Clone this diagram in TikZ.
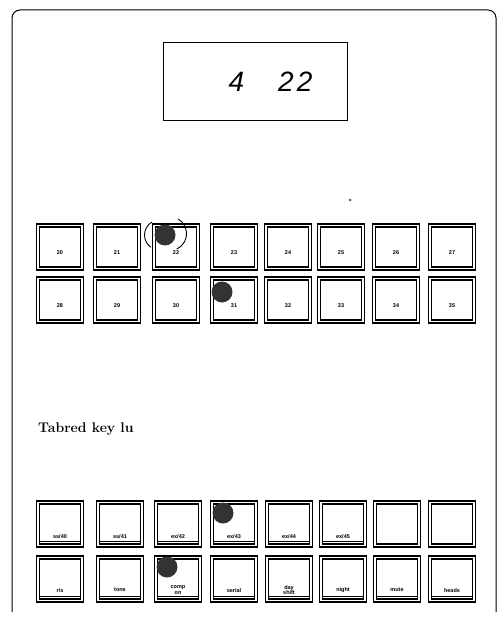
\documentclass[tikz,border=0pt]{standalone}
\usepackage{fontspec}
\setsansfont{Liberation Sans}
\begin{document}
\begin{tikzpicture}[x=1pt,y=-1pt,
  keybox/.style={draw, double, double distance=1.6pt, line width=1.3pt, minimum width=44pt, minimum height=43pt, inner sep=0pt},
  keylab/.style={font=\sffamily\bfseries\fontsize{5.5}{5.5}\selectfont, inner sep=0.5pt, align=center},
  blob/.style={fill=black!80, circle, minimum size=21pt, inner sep=0pt},
  panel/.style={draw, line width=1pt, rounded corners=8pt}]
\useasboundingbox (0,0) rectangle (498,618);
% panel
\draw[panel] (12,612) -- (12,10) -- (496,10) -- (496,612);
% display
\node[draw, line width=1.3pt, minimum width=184pt, minimum height=78pt, inner sep=0pt] (disp) at (255.5,81.5) {};
\node[font=\sffamily\itshape\fontsize{28}{28}\selectfont] (dnum) at (270.5,82) {4\hspace{34pt}2\hspace{3pt}2};
% top keys
\foreach \x/\l [count=\i] in {60/20,117/21,176/22,234/23,288/24,341/25,396/26,452/27}{
  \node[keybox] (ta\i) at (\x,247) {};
  \node[keylab] (tal\i) at ([yshift=17pt]ta\i.south) {\l};
}
\foreach \x/\l [count=\i] in {60/28,117/29,176/30,234/31,288/32,341/33,396/34,452/35}{
  \node[keybox] (tb\i) at (\x,300) {};
  \node[keylab] (tbl\i) at ([yshift=17pt]tb\i.south) {\l};
}
% dots on top keys
\node[blob] (d1) at (165,235) {};
\draw[line width=0.9pt] (152,222) arc[start angle=120, end angle=235, radius=15pt];
\draw[line width=0.9pt] (178,219) arc[start angle=60, end angle=-65, radius=17pt];
\node[blob] (d2) at (222,292) {};
\fill[black!60] (350,200) circle (1.5pt);
% title
\node[font=\bfseries\fontsize{14}{14}\selectfont, anchor=west, inner sep=0pt] (title) at (38,429) {Tabred key lu};
% bottom keys
\foreach \x [count=\i] in {60,120,178,234,289,343,397,452}{
  \node[keybox] (ba\i) at (\x,524) {};
}
\foreach \l [count=\i] in {{ss/40},{ss/41},{ex/42},{ex/43},{ex/44},{ex/45}}{
  \node[keylab] (bal\i) at ([yshift=10pt]ba\i.south) {\l};
  \draw[line width=0.8pt] ([xshift=3pt,yshift=5pt]ba\i.south west) -- ([xshift=-3pt,yshift=5pt]ba\i.south east);
}
\foreach \x/\l [count=\i] in {60/{r/s},120/{tone},178/{comp\\on},234/{serial},289/{day\\shift},343/{night},397/{mute},452/{heads}}{
  \node[keybox] (bb\i) at (\x,579) {};
  \node[keylab] (bbl\i) at ([yshift=11pt]bb\i.south) {\l};
  \draw[line width=0.8pt] ([xshift=3pt,yshift=5pt]bb\i.south west) -- ([xshift=-3pt,yshift=5pt]bb\i.south east);
}
\node[blob] (d3) at (223,513) {};
\node[blob] (d4) at (167,567) {};
\end{tikzpicture}
\end{document}
